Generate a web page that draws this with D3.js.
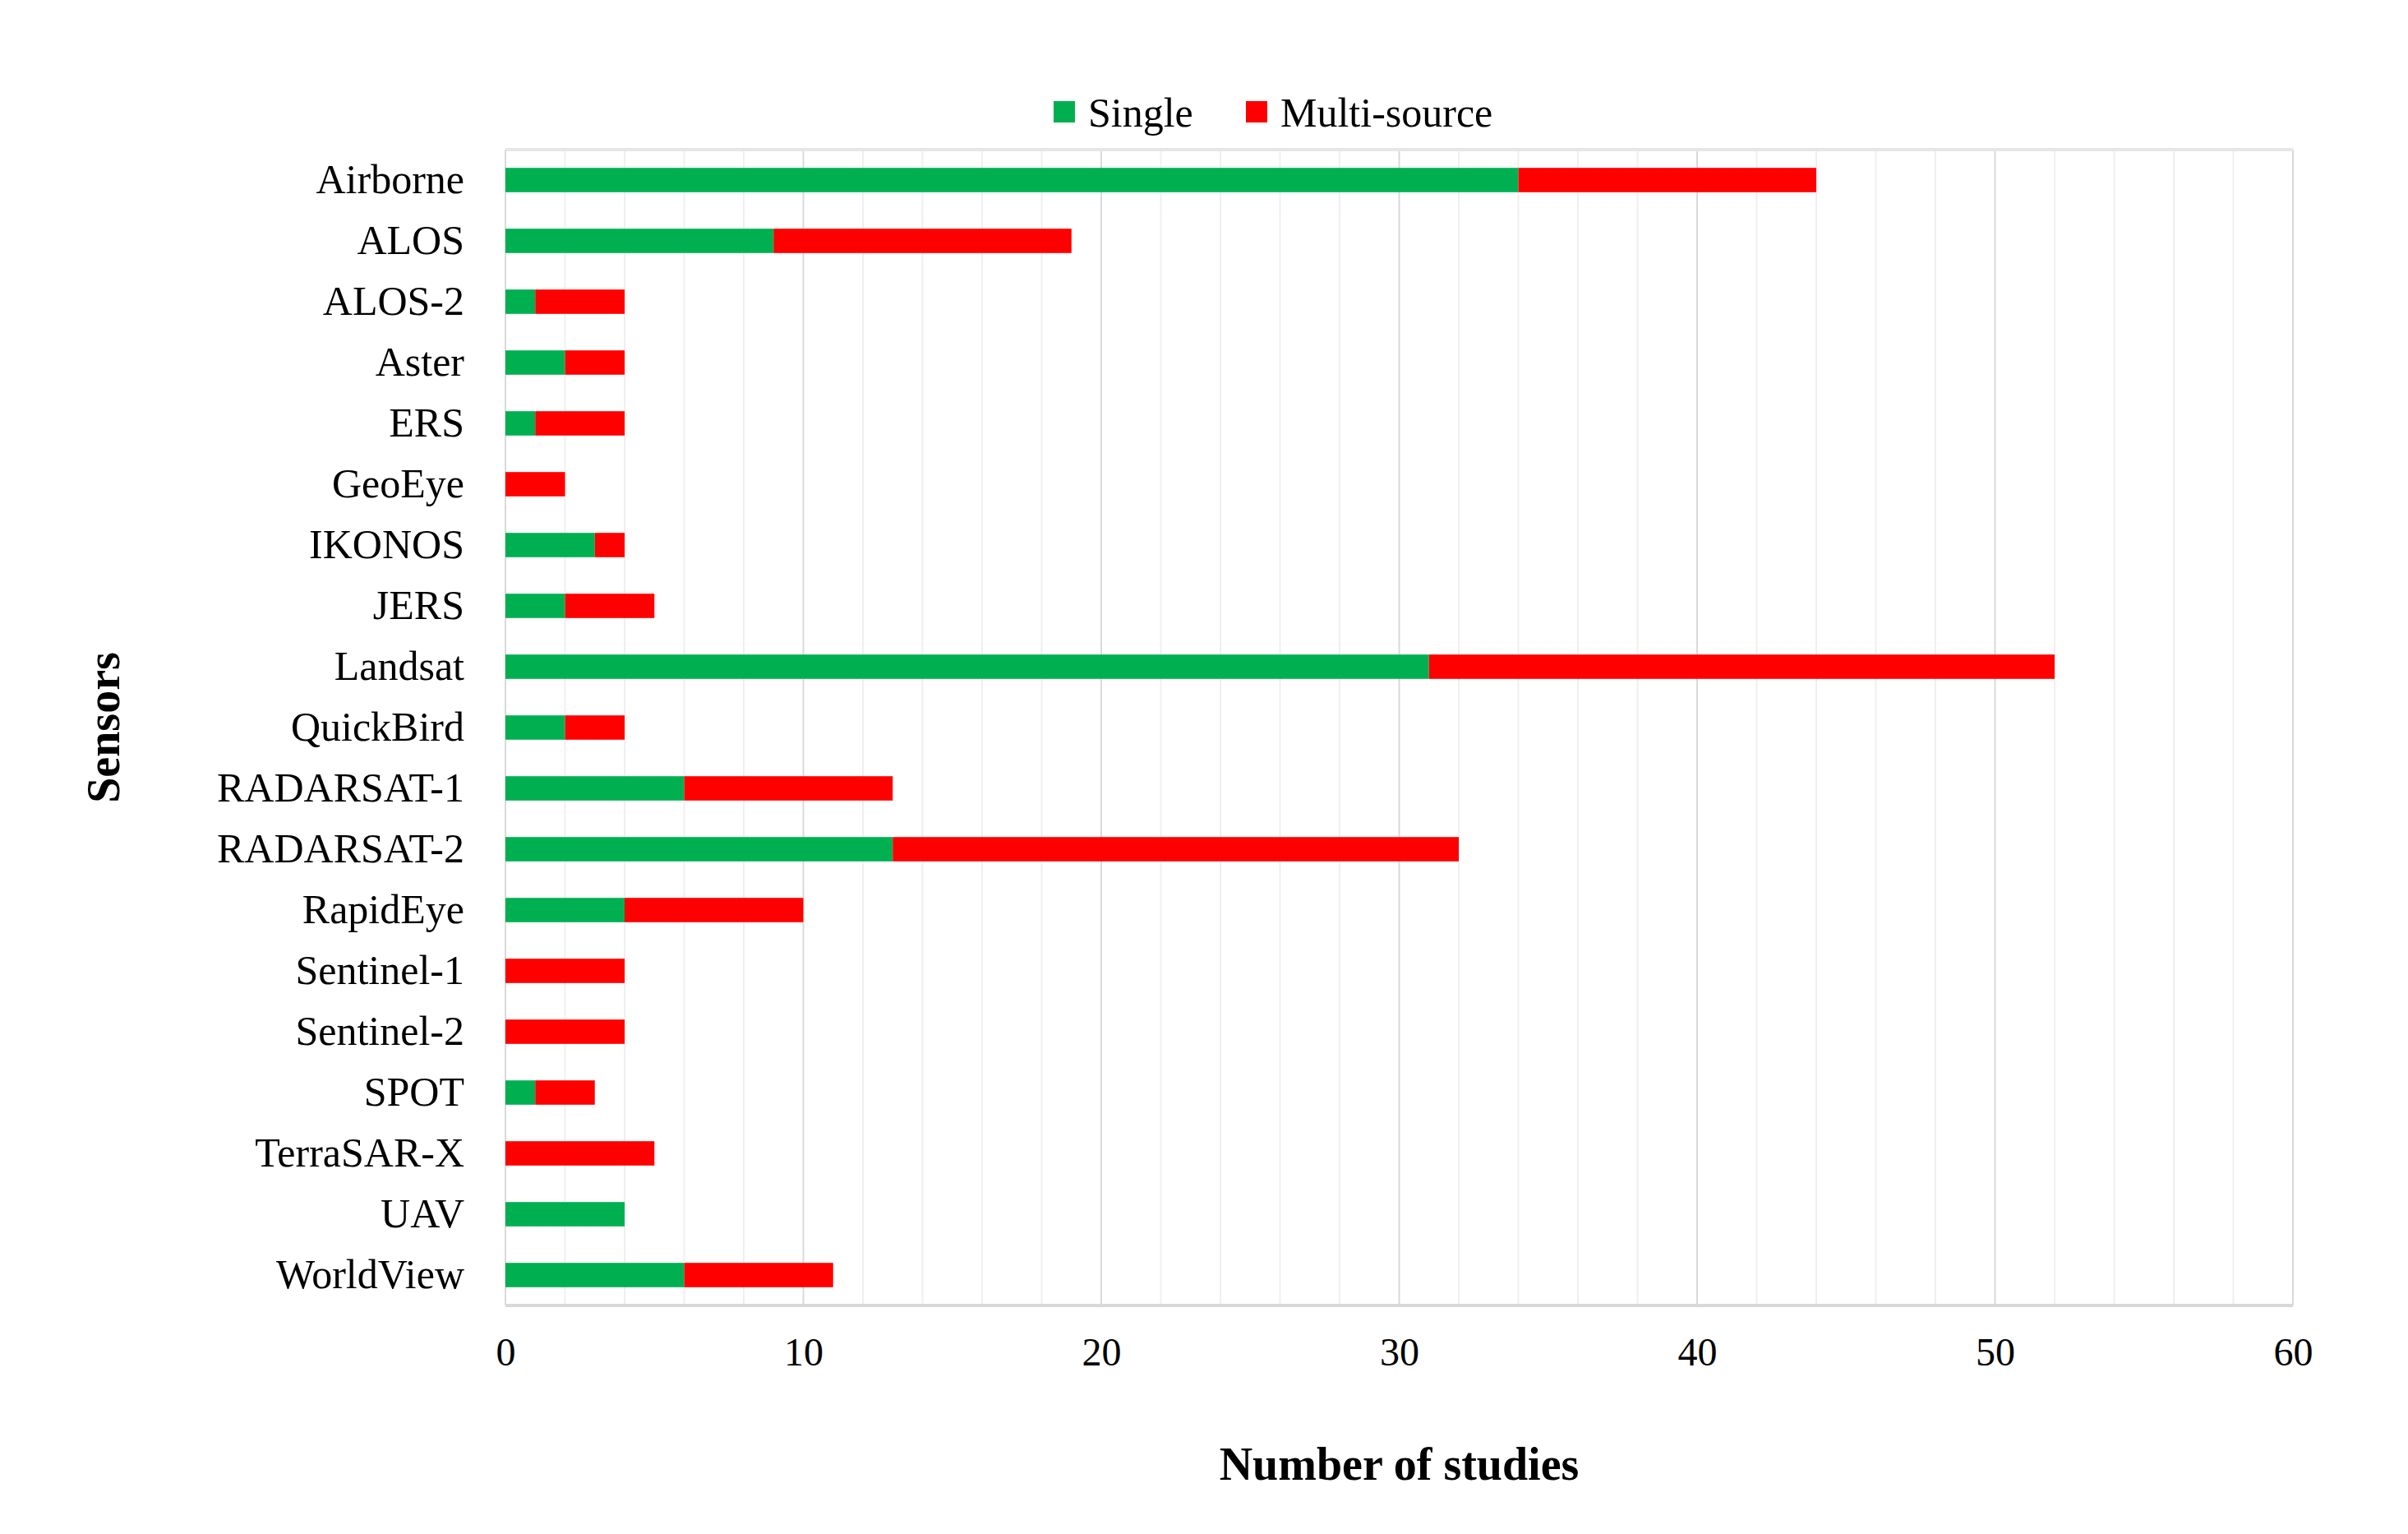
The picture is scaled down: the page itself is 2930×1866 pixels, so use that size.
<!DOCTYPE html>
<html>
<head>
<meta charset="utf-8">
<script src="https://cdn.jsdelivr.net/npm/d3@7"></script>
<style>
  body { margin: 0; background: #fff; }
  text { font-family: "Liberation Serif", "Times New Roman", serif; fill: #000; }
</style>
</head>
<body>
<svg id="chart" width="2930" height="1866"></svg>
<script>
let sensors = ['Airborne', 'ALOS', 'ALOS-2', 'Aster', 'ERS', 'GeoEye', 'IKONOS', 'JERS', 'Landsat',
    'QuickBird', 'RADARSAT-1', 'RADARSAT-2', 'RapidEye', 'Sentinel-1', 'Sentinel-2', 'SPOT',
    'TerraSAR-X', 'UAV', 'WorldView'];
let single =      [34, 9, 1, 2, 1, 0, 3, 2, 31, 2, 6, 13, 4, 0, 0, 1, 0, 4, 6];
let multiSource = [10, 10, 3, 2, 3, 2, 1, 3, 21, 2, 7, 19, 6, 4, 4, 2, 5, 0, 5];
let seriesNames = ['Single', 'Multi-source'];
let colors = ['#00b050', '#ff0000'];
let xTicks = [0, 10, 20, 30, 40, 50, 60];

let svg = d3.select('svg#chart');
let plotLeft = 615, plotRight = 2790, plotTop = 182, plotBottom = 1588;

let x = d3.scaleLinear().domain([0, 60]).range([plotLeft, plotRight]);
let y = d3.scaleBand().domain(sensors).range([plotTop, plotBottom]).paddingInner(0.6).paddingOuter(0.3);

// grid: minor every 2, major every 10
svg.append('g').selectAll('line')
    .data(d3.range(2, 61, 2))
    .join('line')
    .attr('x1', d => x(d)).attr('x2', d => x(d))
    .attr('y1', plotTop).attr('y2', plotBottom)
    .attr('stroke', d => d % 10 == 0 ? '#d9d9d9' : '#efefef')
    .attr('stroke-width', 2);

// plot frame
svg.append('line').attr('x1', plotLeft).attr('x2', plotRight).attr('y1', plotTop).attr('y2', plotTop)
    .attr('stroke', '#e6e6e6').attr('stroke-width', 4);
svg.append('line').attr('x1', plotLeft).attr('x2', plotRight).attr('y1', plotBottom).attr('y2', plotBottom)
    .attr('stroke', '#d9d9d9').attr('stroke-width', 4);
svg.append('line').attr('x1', plotLeft).attr('x2', plotLeft).attr('y1', plotTop).attr('y2', plotBottom)
    .attr('stroke', '#d9d9d9').attr('stroke-width', 2);

let rows = sensors.map((s, i) => ({ sensor: s, Single: single[i], 'Multi-source': multiSource[i] }));
let stacked = d3.stack().keys(seriesNames)(rows);

svg.append('g').selectAll('g')
    .data(stacked)
    .join('g')
    .attr('fill', (d, i) => colors[i])
    .selectAll('rect')
    .data(d => d)
    .join('rect')
    .attr('x', d => x(d[0]))
    .attr('width', d => x(d[1]) - x(d[0]))
    .attr('y', d => y(d.data.sensor))
    .attr('height', y.bandwidth());

// y labels
let yAxis = svg.append('g').attr('transform', `translate(${plotLeft - 50},0)`)
    .call(d3.axisLeft(y).tickSize(0).tickPadding(0));
yAxis.select('.domain').remove();
yAxis.selectAll('text').style('font-size', '50px').attr('font-family', 'Liberation Serif').attr('dy', '0.32em');

// x labels
let xAxis = svg.append('g').attr('transform', `translate(0,${plotBottom + 30})`)
    .call(d3.axisBottom(x).tickValues(xTicks).tickSize(0).tickPadding(0));
xAxis.select('.domain').remove();
xAxis.selectAll('text').style('font-size', '48px').attr('font-family', 'Liberation Serif').attr('dy', '0.9em');

// axis titles
svg.append('text').attr('x', (plotLeft + plotRight) / 2).attr('y', 1800)
    .attr('text-anchor', 'middle').style('font-size', '56px').style('font-weight', 'bold')
    .text('Number of studies');
svg.append('text').attr('transform', 'translate(145,885) rotate(-90)')
    .attr('text-anchor', 'middle').style('font-size', '56px').style('font-weight', 'bold')
    .text('Sensors');

// legend
let legendX = [1282, 1516];
let legend = svg.append('g').selectAll('g')
    .data(seriesNames)
    .join('g')
    .attr('transform', (d, i) => `translate(${legendX[i]},136)`);
legend.append('rect').attr('x', 0).attr('y', -13).attr('width', 26).attr('height', 26)
    .attr('fill', (d, i) => colors[i]);
legend.append('text').attr('x', 42).attr('dy', '0.35em').style('font-size', '50px').text(d => d);
</script>
</body>
</html>
